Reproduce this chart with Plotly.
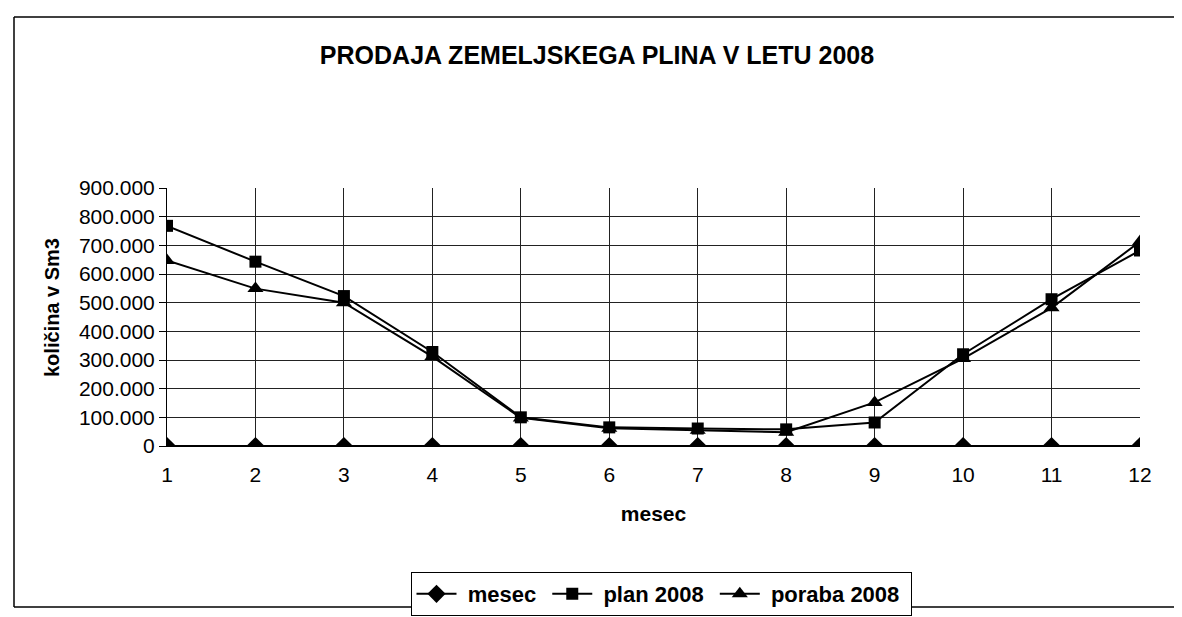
import plotly.graph_objects as go

months = [1, 2, 3, 4, 5, 6, 7, 8, 9, 10, 11, 12]
mesec = [1, 2, 3, 4, 5, 6, 7, 8, 9, 10, 11, 12]
plan_2008 = [768000, 643000, 523000, 328000, 100000, 65000, 61000, 58000, 82000, 320000, 512000, 682000]
poraba_2008 = [647000, 549000, 500000, 312000, 98000, 62000, 55000, 48000, 152000, 305000, 482000, 713000]
y_tick_vals = [0, 100000, 200000, 300000, 400000, 500000, 600000, 700000, 800000, 900000]
y_tick_text = ["0", "100.000", "200.000", "300.000", "400.000", "500.000",
               "600.000", "700.000", "800.000", "900.000"]

FONT = "Liberation Sans, Arial, sans-serif"
NB = "\u00a0"

OFF = 8  # page body margin
W, H = 1182 - OFF, 617 - OFF
L, R, T, B = 167 - OFF, 1140 - OFF, 188 - OFF, 446 - OFF
PW, PH = R - L, B - T


def px_x(x):
    return (x - OFF - L) / PW


def px_y(y):
    return (B - (y - OFF)) / PH


fig = go.Figure()
fig.add_trace(go.Scatter(x=months, y=mesec, name=NB + "<b>mesec</b>" + NB, mode="lines+markers",
                         line=dict(color="black", width=2),
                         marker=dict(symbol="diamond", size=14, color="black")))
fig.add_trace(go.Scatter(x=months, y=plan_2008, name=NB + "<b>plan 2008</b>" + NB, mode="lines+markers",
                         line=dict(color="black", width=2),
                         marker=dict(symbol="square", size=12, color="black")))
fig.add_trace(go.Scatter(x=months, y=poraba_2008, name=NB + "<b>poraba 2008</b>" + NB, mode="lines+markers",
                         line=dict(color="black", width=2),
                         marker=dict(symbol="triangle-up", size=14, color="black")))

fig.update_layout(
    width=W, height=H,
    paper_bgcolor="white", plot_bgcolor="white",
    margin=dict(l=L, r=W - R, t=T, b=H - B, autoexpand=False),
    font=dict(family=FONT, color="black", size=21),
    title=dict(text="<b>PRODAJA ZEMELJSKEGA PLINA V LETU 2008</b>",
               x=(597 - OFF) / W, xanchor="center", y=1 - (55 - OFF) / H, yanchor="middle",
               font=dict(size=25, family=FONT, color="black")),
    showlegend=True,
    legend=dict(orientation="h", x=px_x(661), xanchor="center", y=px_y(594), yanchor="middle",
                bordercolor="black", borderwidth=1, bgcolor="white",
                font=dict(size=22, family=FONT, color="black"),
                itemwidth=40, tracegroupgap=0),
    xaxis=dict(range=[1, 12], tickvals=months, ticktext=[str(m) for m in months],
               showgrid=True, gridcolor="#222", gridwidth=1,
               showline=True, linecolor="black", linewidth=1,
               zeroline=False, ticks="", ticklabelstandoff=10,
               tickfont=dict(size=21), automargin=False,
               title=dict(text="<b>mesec</b>", standoff=21, font=dict(size=21))),
    yaxis=dict(range=[0, 900000], tickvals=y_tick_vals, ticktext=y_tick_text,
               showgrid=True, gridcolor="#222", gridwidth=1,
               showline=True, linecolor="black", linewidth=1,
               zeroline=False, ticks="outside", ticklen=7, tickcolor="black",
               tickfont=dict(size=21), automargin=False),
    annotations=[
        dict(text="<b>količina v Sm3</b>", xref="paper", yref="paper",
             x=px_x(52), y=px_y(308), xanchor="center", yanchor="middle",
             textangle=-90, showarrow=False, font=dict(size=20, family=FONT, color="black")),
    ],
    shapes=[
        dict(type="line", xref="paper", yref="paper", x0=px_x(14), x1=px_x(1200), y0=px_y(17), y1=px_y(17),
             line=dict(color="black", width=1.5)),
        dict(type="line", xref="paper", yref="paper", x0=px_x(14), x1=px_x(14), y0=px_y(17), y1=px_y(607),
             line=dict(color="black", width=1.5)),
        dict(type="line", xref="paper", yref="paper", x0=px_x(14), x1=px_x(1200), y0=px_y(607), y1=px_y(607),
             line=dict(color="black", width=1.5)),
    ],
)

fig.write_html("out.html")
